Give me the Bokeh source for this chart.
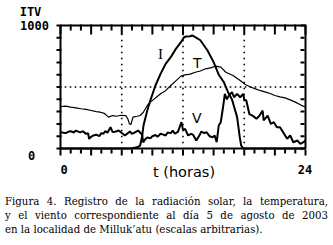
import numpy as np
from bokeh.plotting import figure
from bokeh.models import Range1d, Div
from bokeh.layouts import column
from bokeh.core.properties import value
from bokeh.embed import file_html
from bokeh.resources import INLINE

# ---- data (hours, arbitrary units 0-1000) ----
hours_I = [0.0, 6.9, 7.5, 7.8, 8.0, 8.13, 8.5, 8.8, 9.3, 9.8, 10.3, 10.8, 11.3, 11.8, 12.1, 12.3,
           12.7, 12.9, 13.2, 13.7, 14.4, 15.0, 15.5, 16.0, 16.4, 16.8, 17.3, 17.56, 17.7, 17.9, 24.0]
rad_I = [0, 0, 10, 24, 100, 187, 309, 390, 512, 607, 688, 742, 810, 864, 905, 911,
         913, 919, 905, 880, 797, 702, 600, 540, 460, 398, 255, 92, 24, 0, 0]

hours_T = [0.0, 0.5, 1.0, 1.5, 2.0, 2.5, 3.0, 3.5, 3.9, 4.3, 4.7, 5.1, 5.5, 5.9, 6.4, 6.6, 6.75, 6.9,
           7.1, 7.5, 7.8, 8.1, 8.5, 8.8, 9.3, 9.8, 10.3, 10.8, 11.3, 11.8, 12.2, 12.7, 13.2, 13.7,
           14.2, 14.7, 15.2, 15.7, 16.2, 16.9, 17.6, 18.1, 18.6, 19.1, 19.6, 20.1, 20.6, 21.0,
           21.5, 22.0, 22.5, 23.0, 23.5, 24.0]
temp_T = [341, 345, 336, 330, 323, 318, 309, 300, 295, 285, 255, 268, 262, 270, 268, 240, 200, 195,
          255, 262, 268, 293, 350, 377, 410, 445, 470, 512, 550, 588, 599, 605, 620, 630,
          648, 655, 669, 661, 620, 593, 553, 520, 500, 485, 470, 458, 445, 431,
          420, 412, 395, 377, 355, 336]

hours_V = [0.0, 0.3, 0.5, 0.8, 1.0, 1.3, 1.5, 1.8, 2.0, 2.2, 2.5, 2.7, 2.8, 3.0, 3.2, 3.5, 3.8,
           4.0, 4.2, 4.4, 4.6, 4.9, 5.1, 5.2, 5.5, 5.7, 5.9, 6.1, 6.3, 6.6, 6.8, 7.0, 7.2, 7.6,
           7.8, 8.0, 8.1, 8.3, 8.5, 8.8, 9.0, 9.3, 9.5, 9.8, 10.0, 10.3, 10.5, 10.8, 11.0, 11.2,
           11.5, 11.85, 12.0, 12.2, 12.5, 12.8, 13.0, 13.3, 13.6, 13.8, 14.1, 14.3, 14.6, 14.9,
           15.1, 15.3, 15.5, 15.7, 15.9, 16.1, 16.3, 16.5, 16.8, 17.0, 17.3, 17.6, 17.9, 18.0,
           18.2, 18.5, 18.8, 19.0, 19.2, 19.5, 19.8, 19.9, 20.3, 20.6, 20.9, 21.2, 21.5, 21.8,
           22.2, 22.5, 22.8, 23.2, 23.5, 23.8, 24.0]
wind_V = [133, 128, 125, 138, 141, 130, 146, 135, 133, 140, 119, 125, 79, 95, 106, 112, 100,
          125, 120, 141, 128, 173, 135, 133, 140, 146, 133, 120, 106, 125, 138, 119, 128, 146,
          130, 110, 49, 75, 90, 82, 100, 110, 95, 120, 115, 106, 130, 125, 146, 120,
          135, 214, 150, 160, 106, 119, 110, 65, 105, 138, 125, 133, 100, 92,
          106, 51, 187, 214, 323, 444, 400, 431, 458, 417, 444, 417, 444, 396,
          390, 280, 268, 255, 241, 268, 309, 228, 268, 200, 214, 173, 173, 133,
          79, 106, 51, 65, 38, 51, 65]

x_min, x_max = 0, 24
y_min, y_max = 0, 1000
x_ticks = list(range(0, 25))          # one tick per hour, longer every 3 h
y_ticks = [0, 100, 200, 300, 400, 500, 600, 700, 800, 900, 1000]
x_tick_labels = ["0", "24"]
x_tick_label_pos = [0, 24]
y_tick_labels = ["1000", "0"]
y_tick_label_pos = [1000, 0]
x_grid = [6, 12, 18]
y_grid = [500]
series_labels = ["I", "T", "V"]
series_label_x = [9.8, 13.4, 13.35]
series_label_y = [772, 699, 244]
unit_label = "ITV"
x_title = "t (horas)"
caption_lines = [
    "Figura 4. Registro de la radiación solar, la temperatura,",
    "y el viento correspondiente al día 5 de agosto de 2003",
    "en la localidad de Milluk’atu (escalas arbitrarias).",
]

# ---- layout in pixels ----
W, H = 333, 195
FL, FR, FT, FB = 60, 305, 25, 148          # frame edges (px)
sx = (FR - FL) / (x_max - x_min)           # px per hour
sy = (FB - FT) / (y_max - y_min)           # px per unit

def dx(px):   # pixel length -> hours
    return px / sx

def dy(px):   # pixel length -> units
    return px / sy

def X(px):    # pixel column -> hours
    return x_min + (px - FL) / sx

def Y(py):    # pixel row -> units
    return y_min + (FB - py) / sy

p = figure(width=W, height=H, output_backend="svg", toolbar_location=None,
           x_range=Range1d(X(0), X(W)), y_range=Range1d(Y(H), Y(0)),
           x_axis_location=None, y_axis_location=None, min_border=0)
p.grid.visible = False
p.outline_line_color = None
p.background_fill_color = "white"
p.border_fill_color = "white"

# dotted grid
gl, gr, gb, gt = [], [], [], []
DOT, GAP_H, GAP_V = 1.6, 5, 6
for g in x_grid:
    n = int((FB - FT) / GAP_V)
    for k in range(1, n + 1):
        yc = y_min + dy(k * GAP_V)
        gl.append(g - dx(DOT / 2)); gr.append(g + dx(DOT / 2))
        gb.append(yc - dy(DOT / 2)); gt.append(yc + dy(DOT / 2))
for g in y_grid:
    n = int((FR - FL) / GAP_H)
    for k in range(1, n):
        xc = x_min + dx(k * GAP_H)
        gl.append(xc - dx(DOT / 2)); gr.append(xc + dx(DOT / 2))
        gb.append(g - dy(DOT / 2)); gt.append(g + dy(DOT / 2))
p.quad(left=gl, right=gr, bottom=gb, top=gt, fill_color="black", line_color=None)

# ticks: one broken polyline (NaN gaps between the tick pieces)
tx, ty = [], []
nan = float("nan")
for t in x_ticks:
    major = t % 3 == 0
    tx += [t, t, nan]; ty += [y_max + dy(1), y_max - dy(9 if major else 5), nan]
    tx += [t, t, nan]; ty += [y_min - dy(1), y_min - dy(7 if major else 5), nan]
for v in y_ticks:
    tx += [x_min + dx(1), x_min - dx(4), nan]; ty += [v, v, nan]
    tx += [x_max - dx(1), x_max - dx(5), nan]; ty += [v, v, nan]
p.line(np.array(tx, dtype=float), np.array(ty, dtype=float), line_color="black", line_width=2)

# series
p.line(hours_T, temp_T, line_color="black", line_width=1.2)
p.line(hours_V, wind_V, line_color="black", line_width=2)
p.line(hours_I, rad_I, line_color="black", line_width=2)

# frame
p.quad(left=[x_min], right=[x_max], bottom=[y_min], top=[y_max],
       fill_color=None, line_color="black", line_width=2)

mono = value("DejaVu Sans Mono")
p.text(x=x_tick_label_pos, y=[y_min - dy(20.5)] * 2, text=x_tick_labels,
       text_font=mono, text_font_style="bold", text_font_size=value("12px"),
       text_align="center", text_baseline="middle", text_color="black",
       x_offset=[3.5, -0.5])
p.text(x=[x_min - dx(28)] * 2, y=y_tick_label_pos, text=y_tick_labels,
       text_font=mono, text_font_style="bold", text_font_size=value("12px"),
       text_align="center", text_baseline="middle", text_color="black",
       x_offset=[2, -1], y_offset=[0, 7])
p.text(x=[x_min - dx(30)], y=[y_max + dy(13.5)], text=[unit_label],
       text_font=mono, text_font_style="bold", text_font_size=value("12px"),
       text_align="center", text_baseline="middle", text_color="black")
p.text(x=[(x_min + x_max) / 2 + dx(1)], y=[y_min - dy(23)], text=[x_title],
       text_font=value("DejaVu Sans"), text_font_size=value("14.5px"),
       text_align="center", text_baseline="middle", text_color="black")

p.text(x=series_label_x[:1], y=series_label_y[:1], text=series_labels[:1],
       text_font=value("Liberation Serif"), text_font_size=value("15px"),
       text_align="center", text_baseline="middle", text_color="black")
p.text(x=series_label_x[1:], y=series_label_y[1:], text=series_labels[1:],
       text_font=value("DejaVu Sans"), text_font_size=value("14px"),
       text_align="center", text_baseline="middle", text_color="black")

parts = []
for i, line in enumerate(caption_lines):
    if i < len(caption_lines) - 1:
        parts.append('<div style="text-align:justify;text-align-last:justify;white-space:nowrap">%s</div>' % line)
    else:
        parts.append('<div style="text-align:left;white-space:nowrap">%s</div>' % line)
html = ('<div style="font-family:\'DejaVu Serif\';font-size:10.2px;line-height:14px;'
        'color:black;width:323px;margin-left:5px">' + "".join(parts) + '</div>')
cap = Div(text=html, width=W, margin=(0, 0, 0, 0))

layout = column(p, cap, spacing=0)
open("out.html", "w").write(file_html(layout, INLINE))
